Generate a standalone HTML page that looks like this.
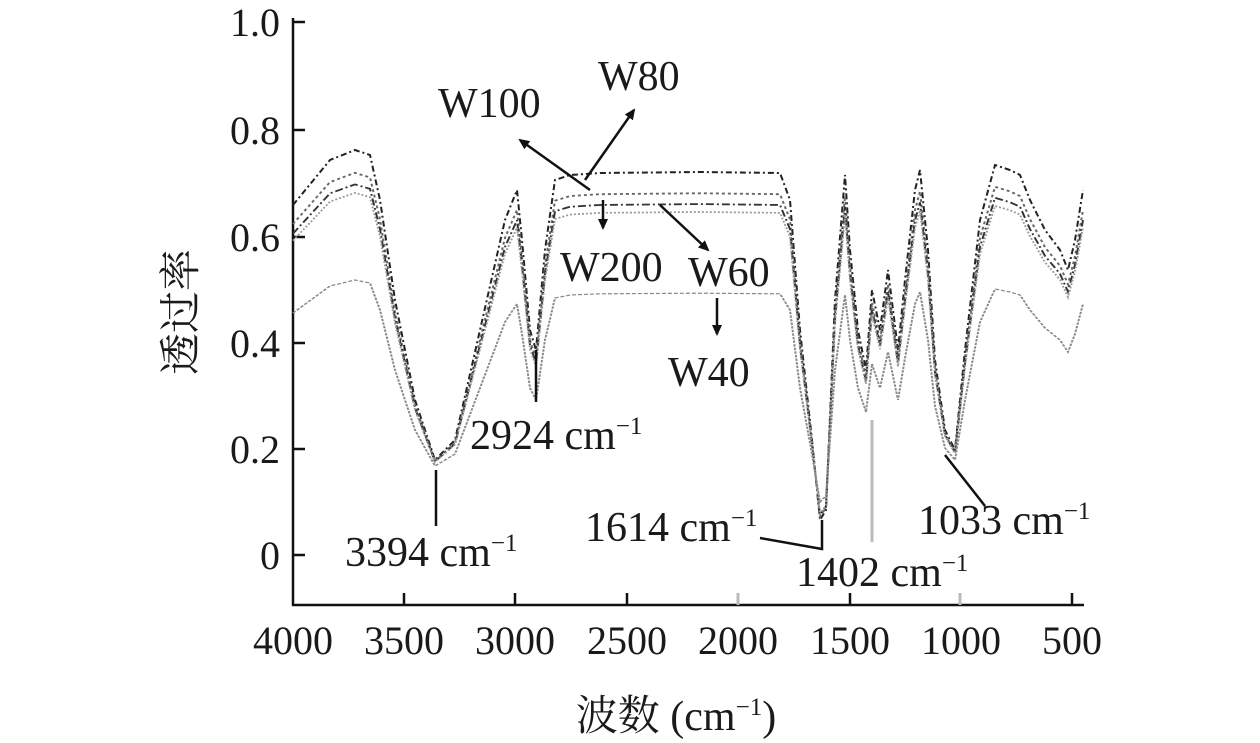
<!DOCTYPE html>
<html><head><meta charset="utf-8"><style>
html,body{margin:0;padding:0;background:#fff;}
svg{display:block;}
text{font-family:"Liberation Serif","Noto Serif CJK SC",serif;fill:#1a1a1a;}
</style></head><body>
<svg width="1260" height="743" xmlns="http://www.w3.org/2000/svg">
<defs><marker id="ah" markerWidth="12" markerHeight="12" refX="9" refY="6" orient="auto" markerUnits="userSpaceOnUse"><path d="M0,1 L11,6 L0,11 z" fill="#111"/></marker>
<polyline id="b" fill="none" points="293,205 330,160 355,150 370,155 380,200 395,300 415,400 435,460 455,440 480,330 505,220 517,190 522,240 530,330 536,350 545,250 555,180 570,175 600,173 700,172 780,173 790,200 800,330 812,440 820,520 826,510 835,300 845,175 850,250 858,330 866,370 872,290 880,330 888,270 898,350 905,280 915,190 920,170 928,250 935,360 945,430 955,450 965,350 980,220 995,165 1010,170 1020,175 1030,200 1045,230 1060,250 1068,270 1075,240 1083,190"/>
</defs>
<g stroke="#111" stroke-width="2.5" fill="none">
<line x1="293" y1="18" x2="293" y2="606"/>
<line x1="292" y1="605" x2="1084" y2="605"/>
<line x1="293" y1="22" x2="305" y2="22"/><line x1="293" y1="130" x2="305" y2="130"/><line x1="293" y1="237" x2="305" y2="237"/><line x1="293" y1="343" x2="305" y2="343"/><line x1="293" y1="449" x2="305" y2="449"/><line x1="293" y1="555" x2="305" y2="555"/>
<line x1="404" y1="605" x2="404" y2="593"/><line x1="515" y1="605" x2="515" y2="593"/><line x1="627" y1="605" x2="627" y2="593"/><line x1="850" y1="605" x2="850" y2="593"/><line x1="1072" y1="605" x2="1072" y2="593"/>
</g>
<g stroke="#bbb" stroke-width="3"><line x1="738" y1="605" x2="738" y2="593"/><line x1="960" y1="605" x2="960" y2="593"/><line x1="872" y1="420" x2="872" y2="542"/></g>
<g fill="none" stroke-width="2">
<use href="#b" stroke="#222" stroke-dasharray="6,3,2,3"/>
<use href="#b" stroke="#666" stroke-dasharray="3,3" transform="translate(0,33.3) scale(1,0.93)"/>
<use href="#b" stroke="#333" stroke-dasharray="8,3,2,3" transform="translate(0,50.3) scale(1,0.894)"/>
<use href="#b" stroke="#999" stroke-dasharray="2,2" transform="translate(0,62.7) scale(1,0.868)"/>
<use href="#b" stroke="#888" stroke-dasharray="4,2" transform="translate(0,190) scale(1,0.6)"/>
</g>
<g font-size="40" text-anchor="end">
<text x="280" y="36">1.0</text><text x="280" y="144">0.8</text><text x="280" y="251">0.6</text><text x="280" y="357">0.4</text><text x="280" y="463">0.2</text><text x="280" y="569">0</text>
</g>
<g font-size="40" text-anchor="middle">
<text x="293" y="654">4000</text><text x="404" y="654">3500</text><text x="515" y="654">3000</text><text x="627" y="654">2500</text><text x="738" y="654">2000</text><text x="850" y="654">1500</text><text x="961" y="654">1000</text><text x="1072" y="654">500</text>
<text x="676" y="730" font-size="42">波数 (cm<tspan font-size="25" dy="-15">−1</tspan><tspan dy="15">)</tspan></text>
</g>
<text font-size="42" transform="translate(195,312) rotate(-90)" text-anchor="middle">透过率</text>
<g font-size="42">
<text x="438" y="117">W100</text><text x="598" y="90">W80</text><text x="560" y="281">W200</text><text x="688" y="286">W60</text><text x="668" y="386">W40</text>
<text x="470" y="449">2924 cm<tspan font-size="25" dy="-15">−1</tspan></text>
<text x="345" y="566">3394 cm<tspan font-size="25" dy="-15">−1</tspan></text>
<text x="585" y="541">1614 cm<tspan font-size="25" dy="-15">−1</tspan></text>
<text x="796" y="586">1402 cm<tspan font-size="25" dy="-15">−1</tspan></text>
<text x="918" y="534">1033 cm<tspan font-size="25" dy="-15">−1</tspan></text>
</g>
<g stroke="#111" stroke-width="2.5" fill="none">
<line x1="590" y1="190" x2="520" y2="140" marker-end="url(#ah)"/>
<line x1="585" y1="180" x2="634" y2="110" marker-end="url(#ah)"/>
<line x1="603" y1="200" x2="603" y2="228" marker-end="url(#ah)"/>
<line x1="660" y1="205" x2="708" y2="250" marker-end="url(#ah)"/>
<line x1="717" y1="298" x2="717" y2="334" marker-end="url(#ah)"/>
<line x1="536" y1="350" x2="536" y2="402"/>
<line x1="436" y1="470" x2="436" y2="526"/>
<polyline points="760,538 822,549 822,520"/>
<line x1="945" y1="455" x2="985" y2="506"/>
</g>
</svg>
</body></html>
